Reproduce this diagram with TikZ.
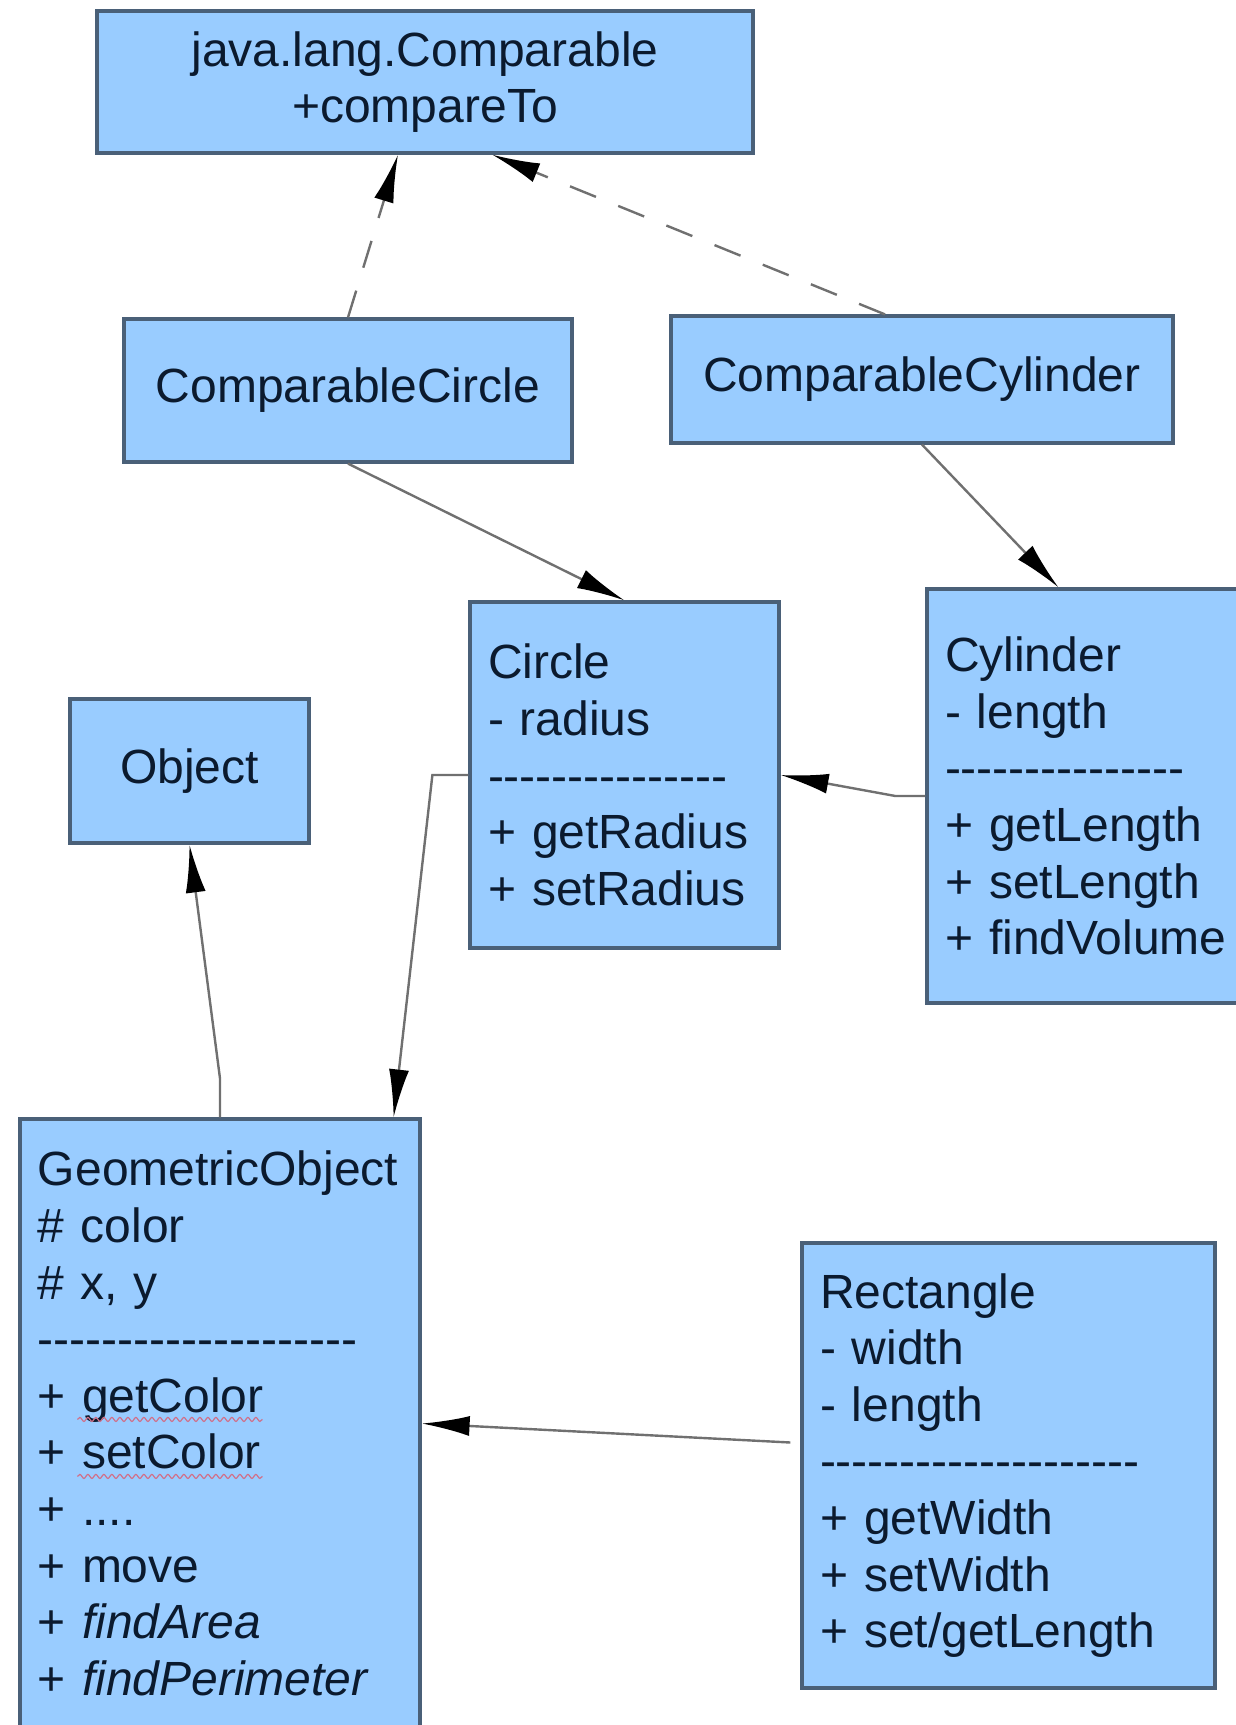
\documentclass[tikz,border=0pt]{standalone}
\usepackage{fontspec}
\setmainfont{Liberation Sans}
\usetikzlibrary{arrows.meta,decorations.pathmorphing}
\definecolor{boxFill}{HTML}{99CCFF}
\definecolor{boxEdge}{HTML}{4A6078}
\definecolor{inkNavy}{HTML}{0B1A2E}
\definecolor{wireGray}{HTML}{707070}
\definecolor{spellRed}{HTML}{D0708A}
\newcommand{\dashrow}[1]{\foreach \k in {1,...,#1}{\mbox{-}}}
\tikzset{
  umlbox/.style={draw=boxEdge, line width=1.6pt, fill=boxFill, text=inkNavy,
    inner sep=0pt, align=center, font=\fontsize{24}{28.3}\selectfont},
  umlclass/.style={umlbox, align=left, text width=#1, inner xsep=9pt},
  assoc/.style={draw=wireGray, line width=1.2pt, -{Latex[length=24pt,width=10pt,color=black]}},
  realize/.style={assoc, dash pattern=on 14pt off 12pt},
  squiggle/.style={draw=spellRed, line width=0.6pt, decorate,
    decoration={snake, amplitude=1pt, segment length=4pt}}
}

\begin{document}
\begin{tikzpicture}[x=0.5pt,y=-0.5pt]
  \useasboundingbox (0,0) rectangle (1236,1725);
  % interface and its two users
  \node[umlbox, minimum width=328pt, minimum height=71pt] (cmp) at (425,82) {java.lang.Comparable\\+compareTo};
  \node[umlbox, minimum width=224pt, minimum height=71.5pt] (ccirc) at (348,390.5) {ComparableCircle};
  \node[umlbox, minimum width=251pt, minimum height=63.5pt] (ccyl) at (922,379.5) {ComparableCylinder};
  % classes
  \node[umlbox, minimum width=119.5pt, minimum height=72pt] (obj) at (189.5,771) {Object};
  \node[umlclass=136.5pt, minimum height=173pt] (circ) at (624.5,775)
    {Circle\\- radius\\\dashrow{15}\\+ getRadius\\+ setRadius};
  \node[umlclass=143.5pt, minimum height=207pt] (cyl) at (1088.5,796)
    {Cylinder\\- length\\\dashrow{15}\\+ getLength\\+ setLength\\+ findVolume};
  \node[umlclass=182pt, minimum height=304.5pt] (geo) at (220,1423.5)
    {GeometricObject\\\# color\\\# x, y\\\dashrow{20}\\+ getColor\\+ setColor\\+ ....\\+ move\\+ \textit{findArea}\\+ \textit{findPerimeter}};
  \node[umlclass=188.5pt, minimum height=222.5pt] (rect) at (1008.5,1465.5)
    {Rectangle\\- width\\- length\\\dashrow{20}\\+ getWidth\\+ setWidth\\+ set/getLength};
  % spell-check marks
  \draw[squiggle] ([shift={(59,302)}]geo.north west) -- ++(185,0);
  \draw[squiggle] ([shift={(59,359)}]geo.north west) -- ++(185,0);
  % relations
  \draw[realize] (ccirc.north) -- ([xshift=-13.5pt]cmp.south);
  \draw[realize] ([xshift=-18.5pt]ccyl.north) -- ([xshift=33.5pt]cmp.south);
  \draw[assoc] (ccirc.south) -- (circ.north);
  \draw[assoc] (ccyl.south) -- ([xshift=-15pt]cyl.north);
  \draw[assoc] (cyl.west) -- ++(-30,0) -- (circ.east);
  \draw[assoc] (circ.west) -- ++(-36,0) -- ([xshift=-14pt]geo.north east);
  \draw[assoc] (geo.north) -- ++(0,-39) -- (obj.south);
  \draw[assoc] ([xshift=-5pt,yshift=11.5pt]rect.west) -- (geo.east);
\end{tikzpicture}
\end{document}
